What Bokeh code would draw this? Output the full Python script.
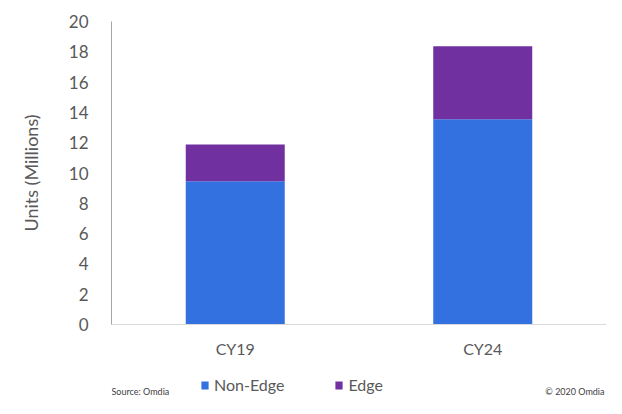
from bokeh.plotting import figure
from bokeh.layouts import column
from bokeh.models import FactorRange, Range1d, Legend, LegendItem, Label, FixedTicker, ColumnDataSource
from bokeh.embed import file_html
from bokeh.resources import INLINE

categories = ["CY19", "CY24"]
non_edge = [9.45, 13.55]
edge = [2.43, 4.82]
series = ["Non-Edge", "Edge"]
colors = ["#3371E1", "#7030A0"]
y_ticks = [0, 2, 4, 6, 8, 10, 12, 14, 16, 18, 20]
source_note = "Source: Omdia"
copyright_note = "© 2020 Omdia"

FONT = "Lato"
TXT = "#595959"

src = ColumnDataSource(dict(cat=categories, **{"Non-Edge": non_edge, "Edge": edge}))

p = figure(x_range=FactorRange(*categories), y_range=Range1d(0, 20),
           frame_width=495, frame_height=303, output_backend="svg", toolbar_location=None,
           min_border_left=111, min_border_right=0, min_border_top=21, min_border_bottom=38)
p.outline_line_color = None
p.grid.visible = False
p.x_range.range_padding = 0
p.x_range.group_padding = 0

rs = p.vbar_stack(series, x="cat", width=0.4, color=colors, line_color=None, source=src)

p.yaxis.ticker = FixedTicker(ticks=y_ticks)
p.yaxis.axis_label = "Units (Millions)"
p.yaxis.axis_label_text_font = FONT
p.yaxis.axis_label_text_font_style = "normal"
p.yaxis.axis_label_text_font_size = "18px"
p.yaxis.axis_label_text_color = TXT
p.yaxis.axis_label_standoff = 24
p.yaxis.axis_line_color = "#a6a6a6"
p.yaxis.major_tick_line_color = None
p.yaxis.minor_tick_line_color = None
p.yaxis.major_label_standoff = 17
p.yaxis.major_label_text_font_size = "17px"

p.xaxis.axis_line_color = "#d9d9d9"
p.xaxis.major_tick_line_color = None
p.xaxis.major_label_standoff = 8
p.xaxis.major_label_text_font_size = "16px"

for ax in (p.xaxis, p.yaxis):
    ax.major_label_text_font = FONT
    ax.major_label_text_color = TXT

# footer: legend and source notes (its frame lines up with the chart's frame)
f = figure(width=606, height=36, output_backend="svg", toolbar_location=None,
           x_axis_type=None, y_axis_type=None, min_border=0,
           x_range=FactorRange(*categories), y_range=Range1d(-2, -1))
f.outline_line_color = None
f.grid.visible = False

# zero-width copies of the series, out of view; they only supply the legend swatches
swatches = f.vbar_stack(series, x="cat", width=0, color=colors, line_color=None, source=src)
legend = Legend(items=[LegendItem(label=s, renderers=[r]) for s, r in zip(series, swatches)],
                location=(89, 4), orientation="horizontal",
                border_line_color=None, background_fill_alpha=0,
                padding=0, margin=0, spacing=50,
                glyph_width=9, glyph_height=10, label_standoff=5, label_height=18,
                label_text_font=FONT, label_text_font_size="16px", label_text_color=TXT)
f.add_layout(legend, "center")

f.add_layout(Label(x=0, y=2, x_units="screen", y_units="screen", text=source_note,
                   text_font=FONT, text_font_size="9px", text_color="#404040"))
f.add_layout(Label(x=493, y=2, x_units="screen", y_units="screen", text=copyright_note,
                   text_font=FONT, text_font_size="9px", text_color="#404040",
                   text_align="right"))

layout = column(p, f, spacing=0)
open("out.html", "w").write(file_html(layout, INLINE))
